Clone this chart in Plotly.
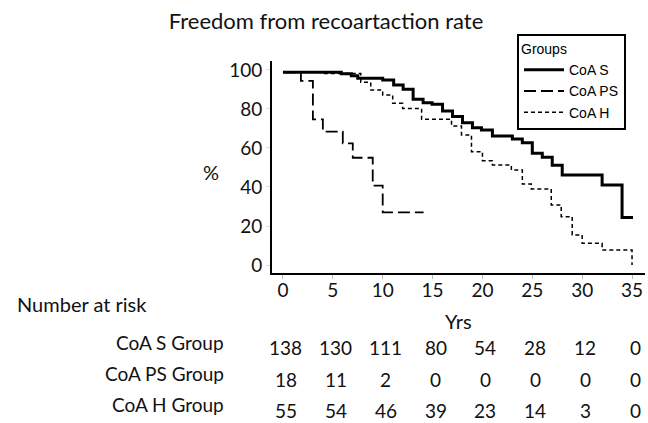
import plotly.graph_objects as go

# ---- data ----
s_years = [0, 5.85, 6.85, 7.5, 10.0, 11.1, 12.05, 13.05, 14.05, 14.95, 16.0, 17.0, 18.0, 19.0, 19.9, 21.0, 23.0, 24.0, 25.0, 26.0, 27.0, 28.0, 32.0, 34.0, 35.1]
s_surv  = [98.8, 98.0, 97.0, 95.7, 94.9, 92.3, 90.1, 85.0, 83.2, 82.4, 79.0, 76.1, 73.0, 70.4, 69.2, 66.2, 64.6, 62.7, 57.3, 55.2, 51.1, 46.2, 41.0, 24.3, 24.3]

ps_years = [0, 1.8, 3.0, 4.0, 6.0, 7.0, 9.0, 10.0, 14.1]
ps_surv  = [98.8, 94.4, 74.7, 68.4, 62.4, 55.0, 40.7, 27.0, 27.0]

h_years = [0, 4.0, 7.8, 8.8, 10.0, 11.0, 12.0, 13.9, 16.9, 17.9, 18.9, 20.0, 21.0, 22.9, 24.0, 24.9, 26.9, 27.9, 29.0, 30.0, 32.0, 35.0]
h_surv  = [98.8, 98.2, 93.7, 89.7, 87.2, 82.9, 80.3, 74.7, 71.3, 66.7, 58.1, 53.5, 51.3, 48.7, 41.5, 39.0, 30.8, 24.8, 15.4, 11.1, 7.7, 0.0]

x_ticks = [0, 5, 10, 15, 20, 25, 30, 35]
y_ticks = [0, 20, 40, 60, 80, 100]

risk_groups = ["CoA S Group", "CoA PS Group", "CoA H Group"]
risk_s  = [138, 130, 111, 80, 54, 28, 12, 0]
risk_ps = [18, 11, 2, 0, 0, 0, 0, 0]
risk_h  = [55, 54, 46, 39, 23, 14, 3, 0]

# ---- figure ----
W, H = 648, 423
L, R, T, B = 272, 3, 61, 150
pw, ph = W - L - R, H - T - B

def px_x(p):
    return (p - L) / pw

def px_y(p):
    return (H - B - p) / ph

fig = go.Figure()
fig.add_trace(go.Scatter(x=s_years, y=s_surv, mode="lines", line_shape="hv",
                         line=dict(color="black", width=3), name="CoA S"))
fig.add_trace(go.Scatter(x=ps_years, y=ps_surv, mode="lines", line_shape="hv",
                         line=dict(color="black", width=1.8, dash="12px,5px"), name="CoA PS"))
fig.add_trace(go.Scatter(x=h_years, y=h_surv, mode="lines", line_shape="hv",
                         line=dict(color="black", width=1.5, dash="4px,3px"), name="CoA H"))

body_font = "Lato, Calibri, Carlito, sans-serif"
ann = []
ann.append(dict(text="Number at risk", x=px_x(15), y=px_y(304), xref="paper", yref="paper",
                xanchor="left", yanchor="middle", showarrow=False,
                font=dict(family=body_font, size=20, color="#111")))
ann.append(dict(text="Yrs", x=0.5, y=px_y(321), xref="paper", yref="paper",
                xanchor="center", yanchor="middle", showarrow=False,
                font=dict(family=body_font, size=20, color="#111")))
ann.append(dict(text="%", x=px_x(211), y=px_y(172), xref="paper", yref="paper",
                xanchor="center", yanchor="middle", showarrow=False,
                font=dict(family=body_font, size=20, color="#111")))

label_y = [342, 373, 404]
num_y = [347, 379, 410]
rows = [risk_s, risk_ps, risk_h]
for g, ly, ny, row in zip(risk_groups, label_y, num_y, rows):
    ann.append(dict(text=g, x=px_x(226), y=px_y(ly), xref="paper", yref="paper",
                    xanchor="right", yanchor="middle", showarrow=False,
                    font=dict(family=body_font, size=19, color="#111")))
    for xv, n in zip(x_ticks, row):
        ann.append(dict(text=str(n), x=xv + 0.3, y=px_y(ny), xref="x", yref="paper",
                        xanchor="center", yanchor="middle", showarrow=False,
                        font=dict(family=body_font, size=19, color="#111")))

fig.update_layout(
    width=W, height=H,
    margin=dict(l=L, r=R, t=T, b=B, pad=0),
    paper_bgcolor="white", plot_bgcolor="white",
    title=dict(text="Freedom from recoartaction rate", x=326 / W, y=1 - 21 / H,
               xanchor="center", yanchor="middle", xref="container", yref="container",
               font=dict(family=body_font, size=22, color="#111")),
    xaxis=dict(range=[-1.10, 36.30], tickvals=x_ticks, showgrid=False, zeroline=False,
               showline=True, linecolor="black", linewidth=2,
               ticks="outside", ticklen=4, tickcolor="#bbb", tickwidth=1,
               ticklabelstandoff=-5,
               tickfont=dict(family=body_font, size=19, color="#111")),
    yaxis=dict(range=[-4.1, 104.6], tickvals=y_ticks, showgrid=False, zeroline=False,
               showline=True, linecolor="black", linewidth=2,
               ticks="outside", ticklen=4, tickcolor="#ddd", tickwidth=1,
               tickfont=dict(family=body_font, size=19, color="#111")),
    legend=dict(x=px_x(517), y=px_y(34), xanchor="left", yanchor="top",
                bgcolor="white", bordercolor="black", borderwidth=2,
                title=dict(text="Groups", font=dict(family="Liberation Sans, Arial", size=14, color="black")),
                font=dict(family="Liberation Sans, Arial", size=14, color="black"),
                tracegroupgap=0, itemwidth=40),
    annotations=ann,
    showlegend=True,
)

fig.write_html("out.html", config={"displayModeBar": False},
               post_script="document.body.style.margin='0px';document.body.style.overflow='hidden';")
